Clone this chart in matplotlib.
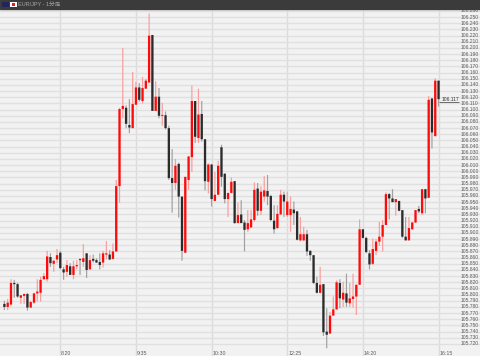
import numpy as np
import matplotlib
matplotlib.use('Agg')
import matplotlib.pyplot as plt
from matplotlib.patches import Rectangle
from matplotlib.transforms import blended_transform_factory

plt.rcParams['font.family'] = ['Liberation Sans', 'Noto Sans CJK JP', 'DejaVu Sans']

# 1 minute candles
opens = [105.785,105.780,105.784,105.819,105.817,105.795,105.798,105.801,105.779,105.787,105.802,105.803,105.825,105.825,105.861,105.850,105.857,105.868,105.841,105.837,105.846,105.832,105.846,105.857,105.853,105.867,105.841,105.858,105.856,105.853,105.852,105.865,105.865,105.858,
         105.870,105.976,106.101,106.103,106.075,106.070,106.108,106.136,106.114,106.134,106.144,106.221,106.098,106.121,106.090,106.091,106.070,105.989,105.981,106.012,105.959,105.868,105.986,106.023,106.114,106.054,106.093,106.052,105.983,106.011,105.952,105.962,106.039,
         105.996,105.955,105.965,105.984,105.916,105.930,105.917,105.906,105.909,105.921,105.972,105.936,105.959,105.968,105.960,105.920,105.908,105.930,105.962,105.929,105.929,105.938,105.935,105.888,105.888,105.898,105.871,105.864,105.819,105.803,105.817,105.740,105.737,
         105.766,105.776,105.819,105.792,105.802,105.786,105.793,105.797,105.816,105.906,105.892,105.867,105.850,105.871,105.886,105.894,105.913,105.963,105.956,105.950,105.952,105.937,105.894,105.888,105.906,105.917,105.939,105.932,105.971,105.957,106.118,106.057,106.147]
highs = [105.790,105.793,105.825,105.824,105.819,105.799,105.802,105.803,105.790,105.803,105.825,105.829,105.835,105.871,105.867,105.856,105.874,105.871,105.845,105.856,105.851,105.855,105.856,105.859,105.882,105.867,105.864,105.865,105.859,105.867,105.871,105.887,105.872,105.883,
         105.986,106.103,106.200,106.107,106.117,106.161,106.145,106.143,106.153,106.150,106.256,106.221,106.146,106.135,106.111,106.097,106.074,106.036,106.020,106.014,105.959,105.991,106.025,106.139,106.114,106.134,106.114,106.052,106.013,106.012,105.999,106.017,106.043,
         105.997,105.965,105.990,105.984,105.949,105.953,105.921,105.937,105.937,105.982,105.981,105.976,105.992,105.994,105.962,105.945,105.945,105.970,105.967,105.967,105.959,105.951,105.936,105.926,105.910,105.905,105.872,105.864,105.829,105.845,105.817,105.778,105.772,
         105.797,105.823,105.825,105.821,105.834,105.819,105.834,105.816,105.922,105.906,105.894,105.872,105.891,105.890,105.918,105.921,105.966,105.965,105.971,105.955,105.952,105.937,105.926,105.926,105.918,105.937,105.944,105.971,105.971,106.122,106.119,106.151,106.147]
lows = [105.775,105.775,105.782,105.795,105.795,105.785,105.785,105.774,105.779,105.785,105.789,105.789,105.824,105.821,105.845,105.837,105.851,105.841,105.824,105.829,105.832,105.825,105.841,105.832,105.845,105.827,105.841,105.852,105.852,105.841,105.844,105.857,105.856,105.857,
        105.869,105.949,106.086,106.070,106.062,106.070,106.108,106.113,106.110,106.134,106.144,106.098,106.098,106.086,106.074,106.068,105.986,105.933,105.970,105.925,105.855,105.868,105.970,105.999,106.046,106.046,106.048,105.969,105.964,105.943,105.952,105.962,105.975,
        105.948,105.926,105.964,105.915,105.916,105.916,105.870,105.902,105.908,105.918,105.928,105.929,105.951,105.945,105.919,105.899,105.906,105.930,105.926,105.926,105.902,105.913,105.888,105.886,105.887,105.863,105.855,105.817,105.802,105.802,105.733,105.713,105.736,
        105.766,105.776,105.778,105.780,105.780,105.780,105.779,105.767,105.816,105.891,105.867,105.841,105.848,105.864,105.879,105.870,105.913,105.922,105.950,105.928,105.935,105.892,105.888,105.888,105.905,105.916,105.932,105.929,105.932,105.957,106.037,106.057,106.105]
closes = [105.780,105.787,105.819,105.817,105.797,105.799,105.801,105.779,105.788,105.802,105.805,105.824,105.830,105.862,105.851,105.855,105.864,105.843,105.836,105.848,105.832,105.846,105.848,105.856,105.859,105.840,105.856,105.855,105.852,105.848,105.867,105.867,105.857,105.870,
          105.976,106.101,106.106,106.077,106.071,106.109,106.136,106.116,106.135,106.147,106.220,106.098,106.121,106.090,106.091,106.070,105.989,105.981,106.009,105.959,105.871,105.991,106.024,106.114,106.056,106.092,106.052,105.984,106.011,105.955,105.962,106.009,105.991,
          105.955,105.965,105.983,105.916,105.929,105.916,105.905,105.916,105.922,105.970,105.936,105.967,105.969,105.959,105.921,105.906,105.931,105.962,105.951,105.951,105.939,105.932,105.889,105.898,105.898,105.870,105.864,105.819,105.803,105.816,105.739,105.735,105.766,
          105.776,105.820,105.794,105.803,105.787,105.794,105.797,105.816,105.906,105.892,105.869,105.849,105.874,105.886,105.894,105.913,105.963,105.956,105.950,105.955,105.936,105.894,105.888,105.908,105.917,105.937,105.935,105.971,105.956,106.116,106.063,106.147,106.117]

time_ticks = [17, 40, 63, 86, 109, 132]
time_labels = ['8:20', '9:35', '10:30', '12:25', '14:20', '16:15']
price_labels = np.round(np.arange(105.72, 106.2601, 0.01), 2)
last_price = 106.117
title = 'EUR/JPY - 1分足'

opens, highs, lows, closes = map(np.array, (opens, highs, lows, closes))
x = np.arange(len(opens))
up = closes >= opens

fig = plt.figure(figsize=(4.8, 3.56), dpi=100, facecolor='#f2f2f2')
ax = fig.add_axes([0, 0, 1, 1], facecolor='#f2f2f2')
ax.set_xlim(-4.4 / 3.289, (480 - 4.4) / 3.289)
ax.set_ylim(105.7005, 106.2778)
for s in ax.spines.values():
    s.set_visible(False)

ax.set_yticks(price_labels)
ax.set_xticks(time_ticks)
ax.tick_params(length=0, labelleft=False, labelbottom=False)
ax.grid(axis='y', color='#e0e0e0', lw=1.0)
ax.grid(axis='x', color='#dcdcdc', lw=1.0)
ax.set_axisbelow(True)

wick_col = np.where(up, '#fa9c9c', '#a0a0a0')
wicks = ax.vlines(x, lows, highs, colors=wick_col, lw=0.85, zorder=3)
wicks.set_snap(False)
bottoms = np.minimum(opens, closes)
heights = np.maximum(np.abs(closes - opens), 0.0015)
body_col = np.where(up, '#ff0a0a', '#2b2b2b')
bodies = ax.bar(x, heights, bottom=bottoms, width=0.7, color=body_col, lw=0, zorder=5)
for b in bodies:
    b.set_snap(False)

# axis texts sit inside the plot
tr = blended_transform_factory(ax.transAxes, ax.transData)
for p in price_labels:
    ax.text(0.9975, p, '%.3f' % p, transform=tr, ha='right', va='center',
            fontsize=3.6, color='#5c5c5c', zorder=6)
tr2 = blended_transform_factory(ax.transData, ax.transAxes)
for t, lab in zip(time_ticks, time_labels):
    ax.annotate(lab, xy=(t, 0.0084), xycoords=tr2, xytext=(0.6, 0), textcoords='offset points',
                va='center', ha='left', fontsize=3.8, color='#5c5c5c', zorder=6)

# last price tag
ax.annotate('106.117', xy=(x[-1] + 0.5, last_price), xytext=(1, 0), textcoords='offset points',
            va='center', ha='left', fontsize=3.6, color='#333333', zorder=7)
ax.hlines(last_price - 0.004, x[-1], x[-1] + 6.2, colors='#555555', lw=0.6, zorder=7)

# header bar
fig.add_artist(Rectangle((0, 1 - 8.5 / 356), 1, 8.5 / 356, transform=fig.transFigure,
                         color='#3b3b3b', zorder=10))
fig.add_artist(Rectangle((2 / 480, 1 - 6.5 / 356), 7 / 480, 5 / 356, transform=fig.transFigure,
                         color='#24245c', lw=0, zorder=11))
fig.add_artist(Rectangle((10 / 480, 1 - 6.5 / 356), 7 / 480, 5 / 356, transform=fig.transFigure,
                         color='#ffffff', lw=0, zorder=11))
fig.add_artist(Rectangle((12 / 480, 1 - 5.5 / 356), 3 / 480, 3 / 356, transform=fig.transFigure,
                         color='#e02020', lw=0, zorder=12))
fig.text(18 / 480, 1 - 4 / 356, title, fontsize=4.0, color='#a8a8a8', va='center', ha='left', zorder=12)

fig.savefig('out.png', dpi=100, facecolor=fig.get_facecolor())
